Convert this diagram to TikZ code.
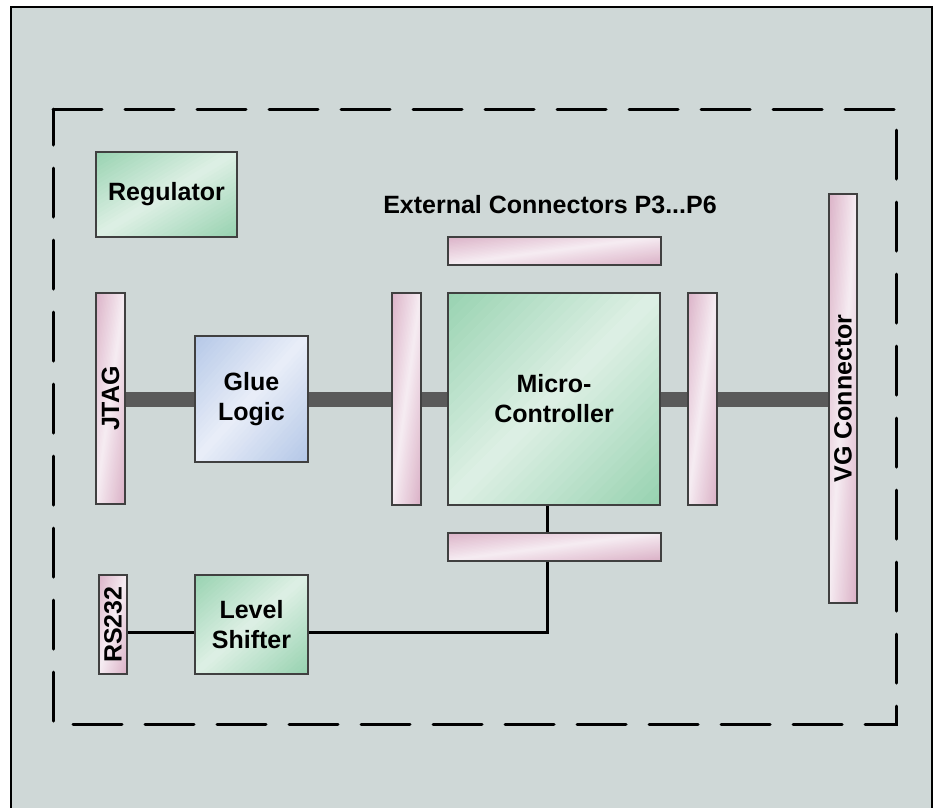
\documentclass[tikz,border=0pt]{standalone}
\usepackage{fontspec}
\setmainfont{Liberation Sans}
\usetikzlibrary{calc}
\definecolor{bgc}{HTML}{CFD8D7}
\definecolor{grd}{HTML}{97D2B0}
\definecolor{grl}{HTML}{DEF0E5}
\definecolor{pkd}{HTML}{DBB2C7}
\definecolor{pkl}{HTML}{F6ECF2}
\definecolor{bld}{HTML}{B4C7E7}
\definecolor{bll}{HTML}{E9EEF8}
\definecolor{busc}{HTML}{5A5A5A}
\definecolor{edge}{HTML}{404040}
\pgfdeclarelayer{back}
\pgfdeclarelayer{wires}
\pgfsetlayers{back,wires,main}
\tikzset{
  grad/.style 2 args={path picture={
    \foreach \k in {0,...,39}{
      \pgfmathsetmacro\sa{2*\k/40-0.01}
      \pgfmathsetmacro\sb{2*(\k+1)/40+0.01}
      \pgfmathsetmacro\pc{100*abs((2*\k+1)/40-1)}
      \fill[#1!\pc!#2] let \p1=(path picture bounding box.north west),
                           \p2=(path picture bounding box.south east) in
        ({\x1+(\sa+1)*(\x2-\x1)},{\y1-(\y2-\y1)}) --
        ({\x1+(\sb+1)*(\x2-\x1)},{\y1-(\y2-\y1)}) --
        ({\x1+(\sb-2)*(\x2-\x1)},{\y1+2*(\y2-\y1)}) --
        ({\x1+(\sa-2)*(\x2-\x1)},{\y1+2*(\y2-\y1)}) -- cycle;
    }}},
  box/.style={draw=edge, line width=1.3pt, inner sep=0pt, align=center,
    font=\fontsize{25}{30}\selectfont\bfseries},
  greenbox/.style={box, fill=grl, grad={grd}{grl}},
  bluebox/.style={box, fill=bll, grad={bld}{bll}},
  pinkbar/.style={box, fill=pkl, grad={pkd}{pkl}},
  vlabel/.style={rotate=90, inner sep=0pt, font=\fontsize{25}{30}\selectfont\bfseries},
  bus/.style={line width=15pt, draw=busc},
  wire/.style={line width=3pt, draw=black},
  frameline/.style={line width=3pt, dash pattern=on 49pt off 23pt, line cap=round}
}
\begin{document}
\begin{tikzpicture}[x=1pt,y=-1pt]
\useasboundingbox (0,0) rectangle (937,807);
\begin{pgfonlayer}{back}
  \fill[white] (0,0) rectangle (937,807);
  \draw[line width=2.5pt, fill=bgc] (11,7) rectangle (932,815);
  \draw[frameline] (53,109) -- (896,109) -- (896,724) -- (53,724) -- cycle;
\end{pgfonlayer}

\node[greenbox, minimum width=141pt, minimum height=85pt] (reg) at (166.5,194.5) {Regulator};
\node[inner sep=0pt, font=\fontsize{25}{30}\selectfont\bfseries] (extlbl) at (550,205) {External Connectors P3...P6};
\node[pinkbar, minimum width=213pt, minimum height=28pt] (ptop) at (554.5,251) {};
\node[greenbox, minimum width=212pt, minimum height=212pt] (micro) at (554,399) {Micro-\\Controller};
\node[pinkbar, minimum width=29pt, minimum height=212pt] (pright) at (702.5,399) {};
\node[pinkbar, minimum width=29pt, minimum height=212pt] (pleft) at (406.5,399) {};
\node[pinkbar, minimum width=213pt, minimum height=28pt] (pbot) at (554.5,547) {};
\node[pinkbar, minimum width=28pt, minimum height=409pt] (vg) at (843,398.5) {};
\node[vlabel] (vglbl) at (vg) {VG Connector};
\node[pinkbar, minimum width=29pt, minimum height=211pt] (jtag) at (110.5,398.5) {};
\node[vlabel] (jtaglbl) at (jtag) {JTAG};
\node[bluebox, minimum width=113pt, minimum height=126pt] (glue) at (251.5,399) {Glue\\Logic};
\node[greenbox, minimum width=113pt, minimum height=99pt] (ls) at (251.5,624.5) {Level\\Shifter};
\node[pinkbar, minimum width=28pt, minimum height=99pt] (rs) at (113,624.5) {};
\node[vlabel] (rslbl) at (rs) {RS232};

\coordinate (turn) at (547,632);
\begin{pgfonlayer}{wires}
  \draw[bus] (jtag.east |- 0,399.5) -- (vg.west |- 0,399.5);
  \draw[wire] (micro.south -| turn) -- (turn) -- (ls.east |- turn);
  \draw[wire] (rs.east |- turn) -- (ls.west |- turn);
\end{pgfonlayer}
\end{tikzpicture}
\end{document}
